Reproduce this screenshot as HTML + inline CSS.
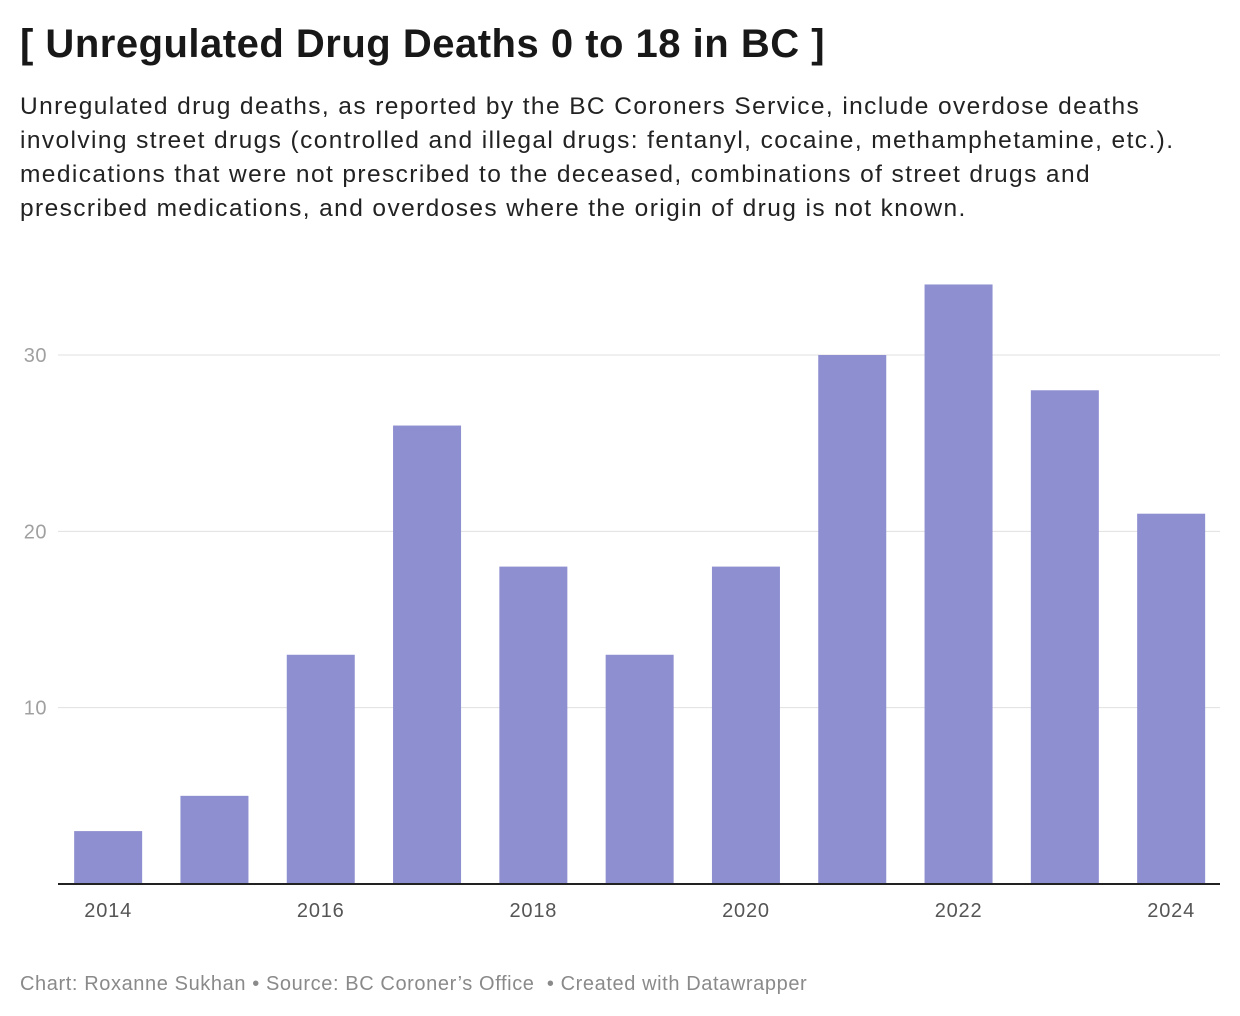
<!DOCTYPE html>
<html><head><meta charset="utf-8">
<style>
body{margin:0;width:1240px;height:1016px;background:#fff;font-family:"Liberation Sans",Arial,sans-serif;position:relative;overflow:hidden}
#title{position:absolute;left:20px;top:22px;font-size:40px;font-weight:bold;color:#181818;margin:0;letter-spacing:0.5px;white-space:nowrap}
#sub{position:absolute;left:20px;top:90px;width:1220px;font-size:24.5px;line-height:34px;color:#222;letter-spacing:1.4px;white-space:nowrap}
#foot{position:absolute;left:20px;top:973px;font-size:20px;color:#8a8a8a;letter-spacing:0.6px;white-space:nowrap}
svg{position:absolute;left:0;top:0}
</style></head><body>
<h1 id="title">[ Unregulated Drug Deaths 0 to 18 in BC ]</h1>
<div id="sub">Unregulated drug deaths, as reported by the BC Coroners Service, include overdose deaths<br>involving street drugs (controlled and illegal drugs: fentanyl, cocaine, methamphetamine, etc.).<br>medications that were not prescribed to the deceased, combinations of street drugs and<br>prescribed medications, and overdoses where the origin of drug is not known.</div>
<svg id="chart" width="1240" height="1016"></svg>
<div id="foot">Chart: Roxanne Sukhan • Source: BC Coroner’s Office &nbsp;• Created with Datawrapper</div>
<script>
const years=[2014,2015,2016,2017,2018,2019,2020,2021,2022,2023,2024];
const deaths=[3,5,13,26,18,13,18,30,34,28,21];
const yTicks=[10,20,30];
const xLabels=[2014,2016,2018,2020,2022,2024];
const svg=document.getElementById('chart');
const NS='http://www.w3.org/2000/svg';
const y0=884,pxPerUnit=(884-355)/30;
const yScale=v=>y0-v*pxPerUnit;
const slot0=55,step=106.3,bw=68;
const xCenter=i=>slot0+step*i+step/2;
function mk(t,a){const e=document.createElementNS(NS,t);for(const k in a)e.setAttribute(k,a[k]);svg.appendChild(e);return e;}
yTicks.forEach(v=>{
  const l=mk('line',{x1:58,x2:1220,y1:yScale(v),y2:yScale(v),stroke:'#e0e0e0','stroke-width':1});
  
  
  const t=mk('text',{x:47,y:yScale(v)+7,'text-anchor':'end','font-size':20,fill:'#a0a0a0','font-family':'Liberation Sans, sans-serif','letter-spacing':0.5});
  t.textContent=v;
  
  
});
deaths.forEach((v,i)=>{
  const r=mk('rect',{x:xCenter(i)-bw/2,y:yScale(v),width:bw,height:y0-yScale(v),fill:'#8e8fd0'});
  
  
});
const ax=mk('line',{x1:58,x2:1220,y1:y0,y2:y0,stroke:'#222','stroke-width':2});


xLabels.forEach(yr=>{
  const i=years.indexOf(yr);
  const t=mk('text',{x:xCenter(i),y:917,'text-anchor':'middle','font-size':20,fill:'#555','font-family':'Liberation Sans, sans-serif','letter-spacing':0.8});
  t.textContent=yr;
  
  
});
</script>
</body></html>
